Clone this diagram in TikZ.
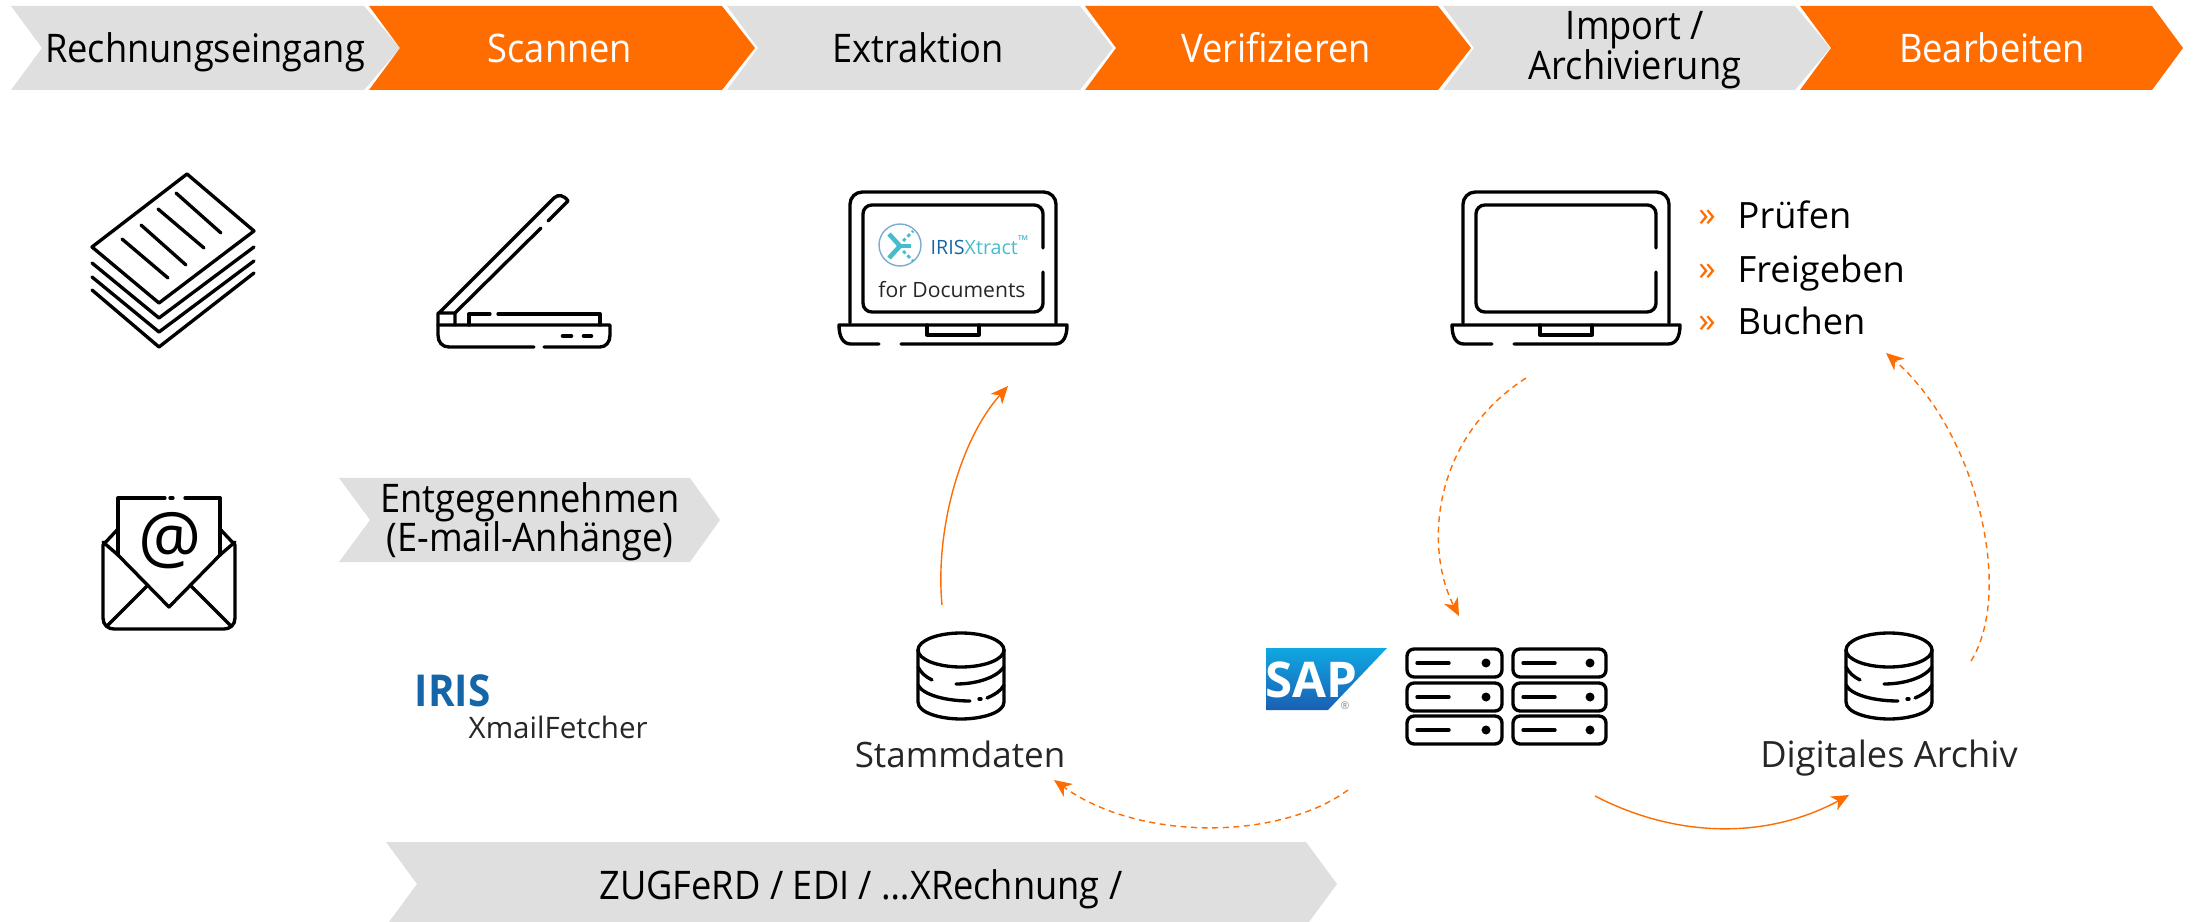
\documentclass[tikz,border=0pt]{standalone}
\usepackage{fontspec}
\setmainfont{Open Sans}
\newfontfamily\narrowfont[FakeStretch=0.92]{Open Sans}
\usetikzlibrary{arrows.meta}
\definecolor{barorange}{HTML}{FF6C00}
\definecolor{bargray}{HTML}{DFDFDF}
\definecolor{irisblue}{HTML}{1565A9}
\definecolor{xteal}{HTML}{45BCCB}
\definecolor{sapdark}{HTML}{1A5FB4}
\definecolor{saplight}{HTML}{10A8E2}
\tikzset{
	icon/.style={line width=0.95pt, line cap=round, line join=round},
	label/.style={inner sep=0pt, font=\narrowfont\fontsize{11.2}{11.2}\selectfont, align=center},
	caption/.style={inner sep=0pt, font=\fontsize{10.3}{10.6}\selectfont},
	flowsolid/.style={color=barorange, line width=0.4pt, -{Stealth[length=5pt,width=4.4pt,inset=1.5pt]}},
	flowdash/.style={flowsolid, dash pattern=on 1.7pt off 1.3pt}
}
\def\chevbar[#1](#2,#3,#4)(#5,#6){\fill[#1] (#2,#5) -- (#3,#5) -- (#4,{(#5+#6)/2}) -- (#3,#6) -- (#2,#6) -- ({#2+31},{(#5+#6)/2}) -- cycle;}
\def\laptop(#1){\begin{scope}[shift={(#1,192)},icon]
	\draw[rounded corners=3.5pt] (-103,131) -- (-103,0) -- (103,0) -- (103,131);
	\draw[rounded corners=2.5pt] (90,56) -- (90,13) -- (-90,13) -- (-90,120) -- (90,120) -- (90,80);
	\draw (-74,152) -- (-102,152) .. controls (-110,152) and (-114,145) .. (-114,133) -- (114,133) .. controls (114,145) and (110,152) .. (102,152) -- (-52,152);
	\draw (-26,133) -- (-26,143) -- (26,143) -- (26,133);
\end{scope}}
\def\database(#1){\begin{scope}[shift={(#1,633)},icon]
	\draw (0,17) circle[x radius=43, y radius=17];
	\draw (-43,17) -- (-43,69) .. controls (-43,80) and (-20,86) .. (0,86) .. controls (20,86) and (43,80) .. (43,69) -- (43,17);
	\draw (-43,34) .. controls (-40,40) and (-35,44) .. (-29,47);
	\draw (-5,51) .. controls (15,51) and (35,45) .. (43,34);
	\draw (-43,52) .. controls (-38,62) and (-15,68) .. (9,68);
	\draw (18,66) -- (20,66);
	\draw (26,65) .. controls (33,62) and (40,58) .. (43,52);
\end{scope}}
\def\rack(#1,#2,#3){\begin{scope}[shift={(#1,#2)},icon]
	\draw[rounded corners=2pt] (0,0) rectangle (#3,28);
	\draw (10,14) -- (42,14);
	\fill ({#3-16},14) circle (4.5);
\end{scope}}

\begin{document}
\begin{tikzpicture}[x=0.01cm, y=-0.01cm]
	%%%%% START %%%%%
	\useasboundingbox (0,0) rectangle (2195,922);

	\chevbar[bargray](11,364,400)(6,90);
	\chevbar[barorange](369,722,755)(6,90);
	\chevbar[bargray](727,1080,1113)(6,90);
	\chevbar[barorange](1085,1438,1471)(6,90);
	\chevbar[bargray](1443,1795,1830)(6,90);
	\chevbar[barorange](1800,2152,2183)(6,90);

	\node[label, anchor=base] (eingang) at (205,63) {Rechnungseingang};
	\node[label, anchor=base, color=white] (scannen) at (560,63) {Scannen};
	\node[label, anchor=base] (extraktion) at (918,63) {Extraktion};
	\node[label, anchor=base, color=white] (verifizieren) at (1276,63) {Verifizieren};
	\node[label] (archivierung) at (1635,50) {Import /\\Archivierung};
	\node[label, anchor=base, color=white] (bearbeiten) at (1992,63) {Bearbeiten};

	% paper stack
	\draw[icon] (187,174) -- (254,231) -- (159,303) -- (92,247) -- cycle;
	\draw[icon] (92,263) -- (159,318) -- (254,247);
	\draw[icon] (92,277) -- (159,332) -- (254,261);
	\draw[icon] (92,290) -- (159,347) -- (254,273);
	\draw[icon] (176,193) -- (221,233);
	\draw[icon] (158,209) -- (204,248);
	\draw[icon] (141,225) -- (186,265);
	\draw[icon] (122,239) -- (168,278);

	% scanner
	\draw[icon] (455,313) -- (439,313) -- (554,198) .. controls (558,194) and (564,195) .. (568,201) -- (548,221);
	\draw[icon] (541,228) -- (455,313) -- (455,325);
	\draw[icon] (438,313) -- (438,335) .. controls (438,342) and (442,347) .. (449,347) -- (534,347);
	\draw[icon] (544,347) -- (600,347) .. controls (606,347) and (610,342) .. (610,335) -- (610,325) -- (438,325);
	\draw[icon] (469,325) -- (469,314) -- (490,314);
	\draw[icon] (498,314) -- (600,314) -- (600,325);
	\draw[icon, line width=1.3pt] (563,336) -- (571,336);
	\draw[icon, line width=1.3pt] (584,336) -- (591,336);

	% envelope
	\draw[icon] (118,555) -- (118,498) -- (165,498);
	\draw[icon] (170,498) -- (173,498);
	\draw[icon] (185,498) -- (220,498) -- (220,555);
	\draw[icon] (118,555) -- (169,607) -- (220,555);
	\draw[icon] (118,529) -- (103,545) -- (103,618) .. controls (103,625) and (108,629) .. (114,629) -- (224,629) .. controls (230,629) and (235,625) .. (235,618) -- (235,545) -- (220,529);
	\draw[icon] (103,542) -- (118,555);
	\draw[icon] (235,542) -- (220,555);
	\draw[icon] (107,626) -- (147,586);
	\draw[icon] (231,626) -- (191,586);
	\node[inner sep=0pt, font=\fontsize{20}{20}\selectfont] (at) at (170,541) {@};

	\chevbar[bargray](339,690,720)(478,562);
	\node[label] (entgegen) at (530,522) {Entgegennehmen\\(E-mail-Anhänge)};

	\node[anchor=base west, inner sep=0pt, font=\narrowfont\bfseries\fontsize{12.5}{12.5}\selectfont, color=irisblue] (iris) at (414,706) {IRIS};
	\node[anchor=base west, inner sep=0pt, font=\fontsize{8.4}{8.4}\selectfont, color=black!85] (fetcher) at (468,738) {XmailFetcher};

	% laptops
	\laptop(953)
	\laptop(1566)

	% logo in the first laptop
	\draw[color=irisblue!55, line width=0.4pt] (900,245) circle (21);
	\draw[color=xteal, line width=1.3pt] (889,234) -- (900,246) -- (889,258);
	\draw[color=xteal, line width=1.3pt] (900,246) -- (911,246);
	\draw[color=xteal, line width=0.8pt, dash pattern=on 1pt off 0.8pt] (903,241) -- (913,231);
	\draw[color=xteal, line width=0.8pt, dash pattern=on 1pt off 0.8pt] (903,251) -- (913,261);
	\node[anchor=west, inner sep=0pt, font=\fontsize{5.6}{6}\selectfont] (xtract) at (930,245) {\textcolor{irisblue}{IRIS}\textcolor{xteal}{Xtract\textsuperscript{™}}};
	\node[inner sep=0pt, font=\fontsize{6}{7}\selectfont, color=black!85] (documents) at (952,290) {for Documents};

	% list
	\node[anchor=center, inner sep=0pt, color=barorange, font=\fontsize{10}{10}\selectfont] (pruefenmark) at (1707,218) {»};
	\node[anchor=center, inner sep=0pt, color=barorange, font=\fontsize{10}{10}\selectfont] (freigebenmark) at (1707,272) {»};
	\node[anchor=center, inner sep=0pt, color=barorange, font=\fontsize{10}{10}\selectfont] (buchenmark) at (1707,324) {»};
	\node[caption, anchor=base west] (pruefen) at (1737,229) {Prüfen};
	\node[caption, anchor=base west] (freigeben) at (1737,283) {Freigeben};
	\node[caption, anchor=base west] (buchen) at (1737,335) {Buchen};

	% sap and servers
	\shade[top color=saplight, bottom color=sapdark] (1266,648) -- (1387,648) -- (1328,710) -- (1266,710) -- cycle;
	\node[inner sep=0pt, color=white, font=\bfseries\fontsize{14}{14}\selectfont] (sap) at (1311,680) {SAP};
	\node[inner sep=0pt, color=black!45, font=\fontsize{3}{3}\selectfont] (sapmark) at (1345,706) {®};
	\rack(1407,649,95)
	\rack(1407,683,95)
	\rack(1407,716,95)
	\rack(1513,649,93)
	\rack(1513,683,93)
	\rack(1513,716,93)

	% databases
	\database(961)
	\database(1889)
	\node[caption, anchor=base, color=black!85, font=\fontsize{9.95}{10.6}\selectfont] (stammdaten) at (960,767) {Stammdaten};
	\node[caption, anchor=base, color=black!85] (digital) at (1889,767) {Digitales Archiv};

	\chevbar[bargray](386,1306,1337)(842,926);
	\node[label, anchor=base] (zugferd) at (861,899) {ZUGFeRD / EDI / …XRechnung /};

	% flows
	\coordinate (stammout) at (942,605);
	\coordinate (laptopin) at (1008,386);
	\coordinate (laptopout) at (1526,378);
	\coordinate (rackin) at (1459,616);
	\coordinate (rackleft) at (1348,790);
	\coordinate (stammin) at (1054,780);
	\coordinate (rackright) at (1595,796);
	\coordinate (archivin) at (1849,795);
	\coordinate (archivout) at (1971,661);
	\coordinate (buchenin) at (1886,353);

	\draw[flowsolid] (stammout) .. controls (935,530) and (960,440) .. (laptopin);
	\draw[flowdash] (laptopout) .. controls (1430,440) and (1425,550) .. (rackin);
	\draw[flowdash] (rackleft) .. controls (1280,840) and (1140,842) .. (stammin);
	\draw[flowsolid] (rackright) .. controls (1680,840) and (1770,838) .. (archivin);
	\draw[flowdash] (archivout) .. controls (2015,590) and (1975,430) .. (buchenin);
	%%%%% END %%%%%
\end{tikzpicture}
\end{document}
